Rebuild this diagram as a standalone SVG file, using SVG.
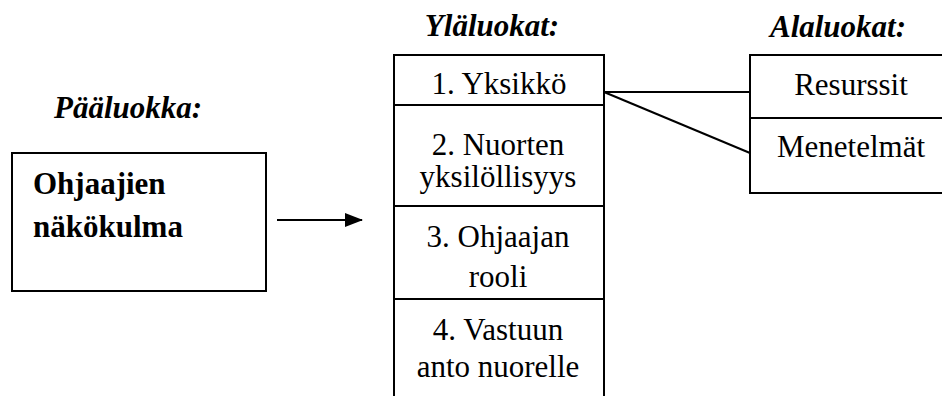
<svg xmlns="http://www.w3.org/2000/svg" width="942" height="396" viewBox="0 0 942 396">
<style>
text{font-family:'Liberation Serif','Times New Roman',Times,'DejaVu Serif',serif;font-size:31px;fill:#000}
.h{font-style:italic;font-weight:bold}
.b{font-weight:bold}
.m{text-anchor:middle}
.box{fill:#fff;stroke:#000;stroke-width:2}
.ln{stroke:#000;stroke-width:2;fill:none}
</style>
<defs>
<marker id="ah" markerWidth="18" markerHeight="14" refX="17" refY="7" orient="auto" markerUnits="userSpaceOnUse" viewBox="0 0 18 14">
<path d="M0,0 L18,7 L0,14 Z" fill="#000"/>
</marker>
</defs>
<rect width="942" height="396" fill="#fff"/>
<g font-family="Liberation Serif, serif">
<text class="h" x="54" y="118">Pääluokka:</text>
<text class="h m" x="492" y="36">Yläluokat:</text>
<text class="h m" x="838" y="37">Alaluokat:</text>
<g id="main">
<rect class="box" x="12" y="153" width="254" height="138"/>
<text class="b" x="33" y="194">Ohjaajien</text>
<text class="b" x="33" y="237">näkökulma</text>
</g>
<g id="upper">
<rect class="box" x="394" y="55" width="210" height="350"/>
<line class="ln" x1="394" y1="105" x2="604" y2="105"/>
<line class="ln" x1="394" y1="206" x2="604" y2="206"/>
<line class="ln" x1="394" y1="299" x2="604" y2="299"/>
<text class="m" x="499" y="94">1. Yksikkö</text>
<text class="m" x="498" y="155">2. Nuorten</text>
<text class="m" x="498" y="187">yksilöllisyys</text>
<text class="m" x="498" y="247">3. Ohjaajan</text>
<text class="m" x="498" y="287">rooli</text>
<text class="m" x="498" y="340">4. Vastuun</text>
<text class="m" x="498" y="377">anto nuorelle</text>
</g>
<g id="lower">
<rect class="box" x="750" y="55" width="200" height="138"/>
<line class="ln" x1="750" y1="118" x2="942" y2="118"/>
<text class="m" x="851" y="95">Resurssit</text>
<text class="m" x="851" y="157">Menetelmät</text>
</g>
</g>
<g id="connectors">
<line class="ln" x1="277" y1="220" x2="362" y2="220" marker-end="url(#ah)"/>
<line class="ln" x1="604" y1="92" x2="750" y2="92"/>
<line class="ln" x1="604" y1="92" x2="750" y2="153"/>
</g>
</svg>
